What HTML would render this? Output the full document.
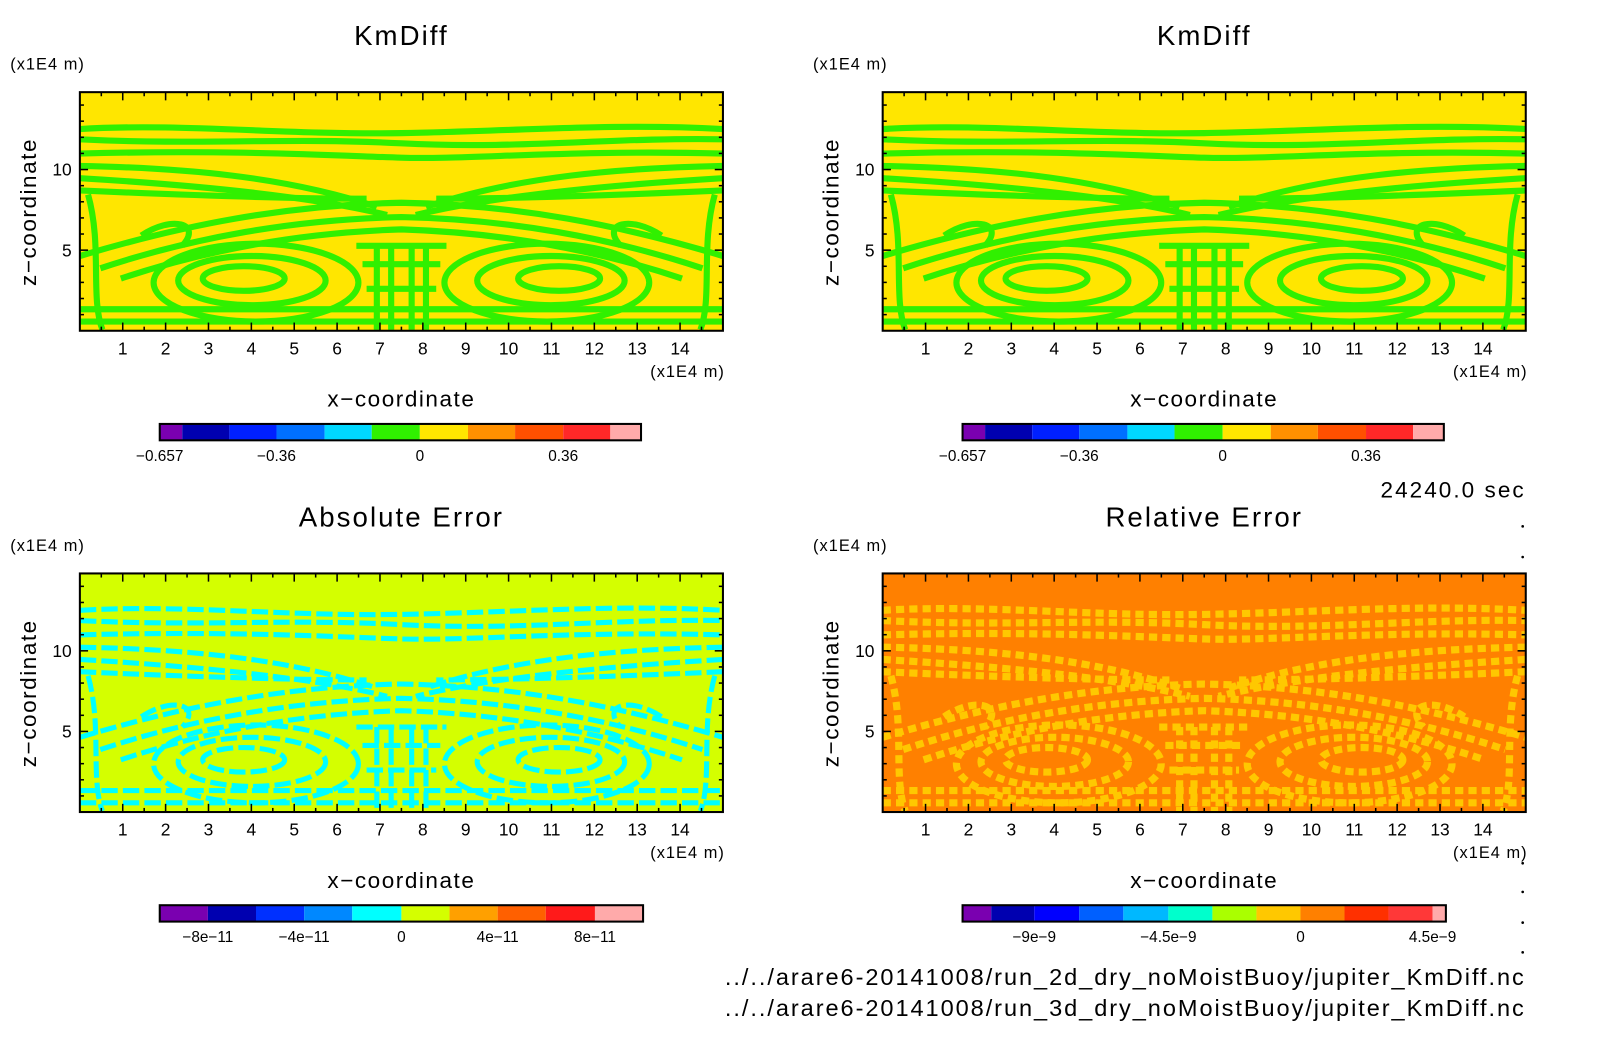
<!DOCTYPE html>
<html><head><meta charset="utf-8"><style>
body{margin:0;background:#fff;}
svg{display:block;font-family:"Liberation Sans",sans-serif;}
</style></head><body>
<svg id="chart" width="1604" height="1054" viewBox="0 0 1604 1054" xmlns="http://www.w3.org/2000/svg">
<defs>
<clipPath id="clipF"><rect x="0" y="0" width="628" height="233"/></clipPath>
<g id="fieldShapes" fill="none">
  <path d="M0,36 C100,30 200,42 314,40 S520,30 628,36"/>
  <path d="M0,46 C120,52 200,44 314,50 S520,44 628,46"/>
  <path d="M0,60 C150,56 250,62 314,64 S480,56 628,60"/>
  <path d="M0,72 C100,74 200,82 290,112 M628,72 C528,74 428,82 338,112"/>
  <path d="M0,84 C100,90 220,100 300,120 M628,84 C528,90 408,100 328,120"/>
  <path d="M0,96 C90,100 200,104 280,104 M628,96 C538,100 428,104 348,104"/>
  <path d="M0,160 C100,130 200,110 314,108 C428,110 528,130 628,160"/>
  <path d="M20,172 C110,142 210,124 314,122 C418,124 518,142 608,172"/>
  <path d="M40,182 C130,152 220,137 314,134 C408,137 498,152 588,182"/>
  <path d="M60,140 C90,120 120,128 100,150 M568,140 C538,120 508,128 528,150"/>
  <ellipse cx="172" cy="186" rx="100" ry="38"/>
  <ellipse cx="168" cy="184" rx="72" ry="24"/>
  <ellipse cx="160" cy="182" rx="40" ry="12"/>
  <ellipse cx="456" cy="186" rx="100" ry="38"/>
  <ellipse cx="460" cy="184" rx="72" ry="24"/>
  <ellipse cx="468" cy="182" rx="40" ry="12"/>
  <path d="M0,212 L628,212 M0,224 L628,224"/>
  <path d="M8,100 C22,150 10,200 22,232 M620,100 C606,150 618,200 606,232"/>
  <path d="M290,150 L290,232 M304,150 L304,232 M324,150 L324,232 M338,150 L338,232"/>
  <path d="M270,150 L358,150 M276,168 L352,168 M280,192 L348,192"/>
</g>
</defs>
<g id="root" transform="scale(1.024)">
  <text x="1490" y="486" font-size="22" letter-spacing="2" text-anchor="end">24240.0 sec</text>
  <text x="1490" y="962" font-size="23" letter-spacing="1.9" text-anchor="end">../../arare6-20141008/run_2d_dry_noMoistBuoy/jupiter_KmDiff.nc</text>
  <text x="1490" y="992" font-size="23" letter-spacing="1.9" text-anchor="end">../../arare6-20141008/run_3d_dry_noMoistBuoy/jupiter_KmDiff.nc</text>
  <g fill="#000">
    <circle cx="1487" cy="514" r="1.3"/><circle cx="1487" cy="544" r="1.3"/>
    <circle cx="1487" cy="843" r="1.3"/><circle cx="1487" cy="871" r="1.3"/>
    <circle cx="1487" cy="901" r="1.3"/><circle cx="1487" cy="930" r="1.3"/>
  </g>
</g>
</svg>
<script>
const xTicks=[1,2,3,4,5,6,7,8,9,10,11,12,13,14];
const zTicks=[5,10];
const xMax=15, zMax=14.8;
const cbTop={colors:["#7a00b0","#0000b0","#0020ff","#0070ff","#00d8ff","#30f000","#ffe600","#ff9000","#ff5000","#ff2828","#ffaaaa"],
  widths:[22,46,46,47,46,47,47,46,47,46,30],labels:["−0.657","−0.36","0","0.36"],labelPos:[0,3,6,9]};
const cbAbs={colors:["#7a00b0","#0000b0","#0030ff","#0088ff","#00ffff","#d4ff00","#ffa000","#ff6000","#ff1a1a","#ffaaaa"],
  widths:[47,47,47,47,48,47,47,47,48,47],labels:["−8e−11","−4e−11","0","4e−11","8e−11"],labelPos:[1,3,5,7,9]};
const cbRel={colors:["#7a00b0","#0000b0","#0000ff","#0060ff","#00b8ff","#00ffcc","#aaff00","#ffc800","#ff8000","#ff3000","#ff3838","#ffaaaa"],
  widths:[28,42,44,43,44,43,43,43,43,43,43,13],labels:["−9e−9","−4.5e−9","0","4.5e−9"],labelPos:[2,5,8,11]};
const NS="http://www.w3.org/2000/svg";
const root=document.getElementById('root');
function el(tag,attrs,parent,text){const e=document.createElementNS(NS,tag);for(const k in attrs)e.setAttribute(k,attrs[k]);if(text!==undefined)e.textContent=text;(parent||root).appendChild(e);return e;}
function panel(ox,oy,title,bg,stroke,sw,dash,cb,name){
  const W=628,H=233;
  const xs=v=>ox+v/xMax*W, zs=v=>oy+H-v/zMax*H;
  const g=el('g',{});
  
  
  const t=el('text',{x:ox+314,y:oy-46,'font-size':27,'letter-spacing':2,'text-anchor':'middle'},g,title);
  
  
  const bgR=el('rect',{x:ox,y:oy,width:W,height:H,fill:bg},g);
  
  
  const f=el('g',{transform:`translate(${ox},${oy})`,'clip-path':'url(#clipF)'},g);
  const u=el('use',{href:'#fieldShapes',stroke:stroke,'stroke-width':sw,'stroke-dasharray':dash},f);
  
  
  const fr=el('rect',{x:ox,y:oy,width:W,height:H,fill:'none',stroke:'#000','stroke-width':2},g);
  
  
  for(let v=0.5;v<xMax;v+=0.5){const maj=Number.isInteger(v);const L=maj?8:4;
    el('line',{x1:xs(v),x2:xs(v),y1:oy+H,y2:oy+H-L,stroke:'#000','stroke-width':1.5},g);
    el('line',{x1:xs(v),x2:xs(v),y1:oy,y2:oy+L,stroke:'#000','stroke-width':1.5},g);}
  for(let v=1;v<zMax;v+=1){const maj=v%5===0;const L=maj?8:4;
    el('line',{x1:ox,x2:ox+L,y1:zs(v),y2:zs(v),stroke:'#000','stroke-width':1.5},g);
    el('line',{x1:ox+W,x2:ox+W-L,y1:zs(v),y2:zs(v),stroke:'#000','stroke-width':1.5},g);}
  xTicks.forEach(v=>{const tl=el('text',{x:xs(v),y:oy+H+23,'font-size':17,'text-anchor':'middle'},g,String(v));
    
    });
  zTicks.forEach(v=>{const tl=el('text',{x:ox-8,y:zs(v)+6,'font-size':17,'text-anchor':'end'},g,String(v));
    
    });
  const yu=el('text',{x:ox-68,y:oy-22,'font-size':16,'letter-spacing':1},g,'(x1E4 m)');
  
  
  const xu=el('text',{x:ox+557,y:oy+H+45,'font-size':16,'letter-spacing':1},g,'(x1E4 m)');
  
  
  const xt=el('text',{x:ox+314,y:oy+H+74,'font-size':22,'letter-spacing':1.5,'text-anchor':'middle'},g,'x−coordinate');
  
  
  const zt=el('text',{x:0,y:0,'font-size':22,'letter-spacing':1.5,'text-anchor':'middle',transform:`translate(${ox-43},${oy+117}) rotate(-90)`},g,'z−coordinate');
  
  
  const cx0=ox+78, cy=oy+324;
  let x=cx0; const edges=[];
  cb.colors.forEach((c,i)=>{edges.push(x);const r=el('rect',{x:x,y:cy,width:cb.widths[i],height:16,fill:c},g);
    
    
    x+=cb.widths[i];});
  edges.push(x);
  const cbf=el('rect',{x:cx0,y:cy,width:x-cx0,height:16,fill:'none',stroke:'#000','stroke-width':2},g);
  
  
  cb.labels.forEach((s,i)=>{const lx=edges[cb.labelPos[i]];
    const tl=el('text',{x:lx,y:cy+36,'font-size':15,'text-anchor':'middle'},g,s);
    
    });
}
panel(78,90,'KmDiff','#ffe600','#30f000',6,'none',cbTop,'panel-kmdiff-2d');
panel(862,90,'KmDiff','#ffe600','#30f000',6,'none',cbTop,'panel-kmdiff-3d');
panel(78,560,'Absolute Error','#d4ff00','#00ffff',5,'16 5',cbAbs,'panel-absolute-error');
panel(862,560,'Relative Error','#ff8000','#ffc800',7,'8 5',cbRel,'panel-relative-error');
</script>
</body></html>
